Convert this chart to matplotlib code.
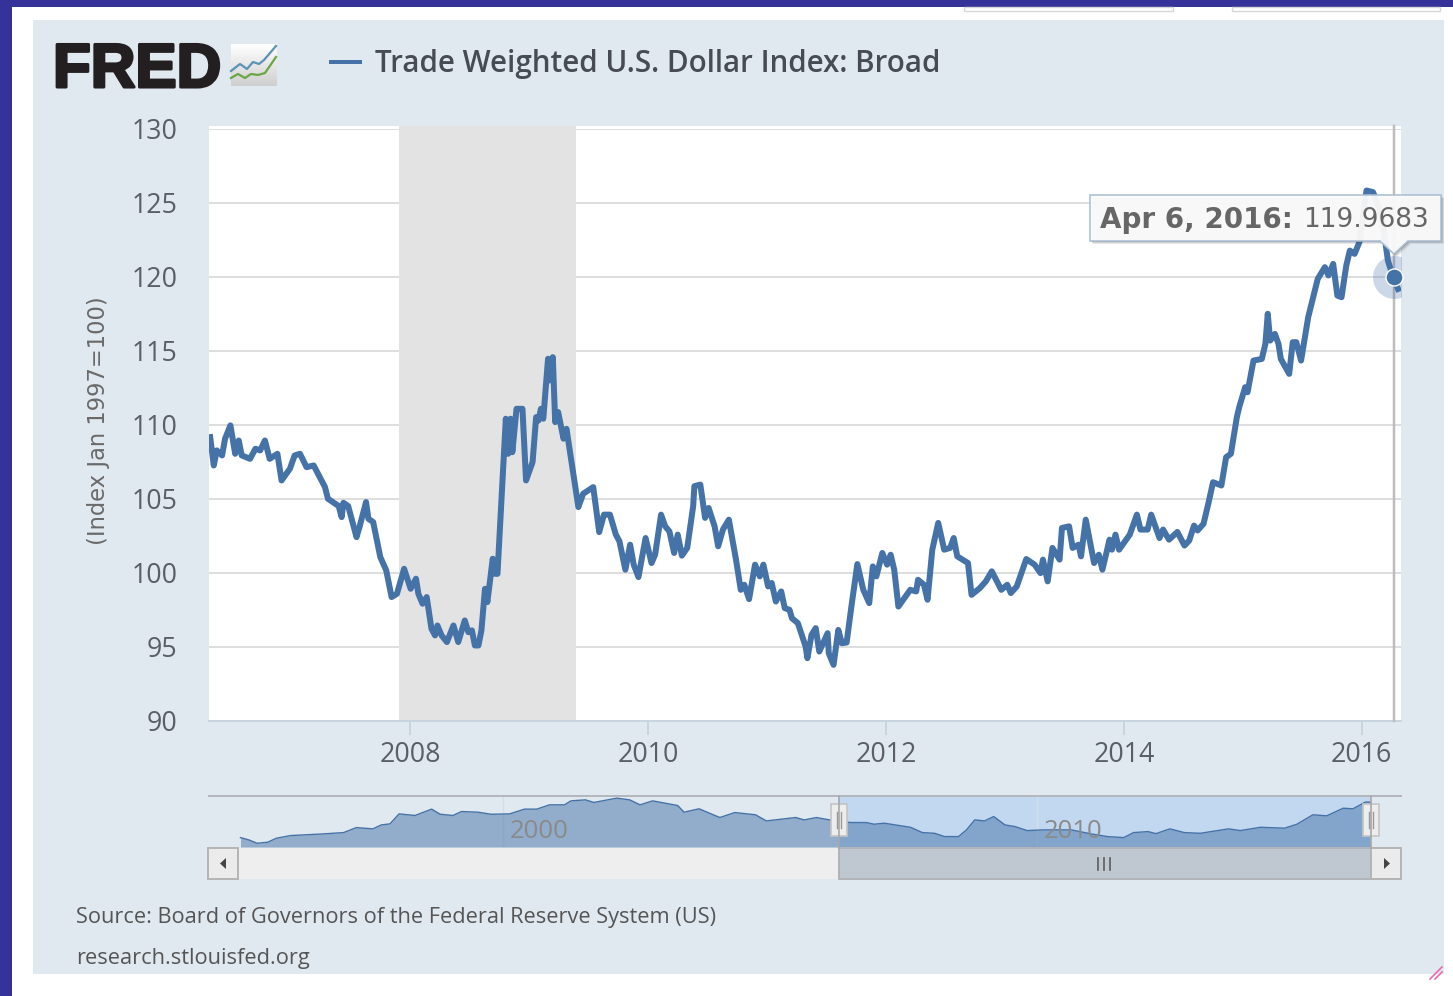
import matplotlib
matplotlib.use("Agg")
import matplotlib.pyplot as plt
from matplotlib.patches import Rectangle, Polygon
from matplotlib.colors import LinearSegmentedColormap
import matplotlib.patheffects as pe
import numpy as np

# ---------- data ----------
years = [2006.32,2006.35,2006.375,2006.42,2006.445,2006.49,2006.53,2006.56,2006.585,2006.655,2006.70,2006.74,2006.78,2006.82,2006.885,2006.92,2006.99,2007.03,2007.075,2007.13,2007.19,2007.285,2007.31,2007.40,2007.425,2007.44,2007.48,2007.55,2007.575,2007.63,2007.65,2007.69,2007.75,2007.80,2007.845,2007.89,2007.95,2008.005,2008.05,2008.07,2008.105,2008.14,2008.18,2008.21,2008.23,2008.265,2008.31,2008.365,2008.405,2008.46,2008.49,2008.52,2008.545,2008.575,2008.60,2008.63,2008.65,2008.695,2008.715,2008.735,2008.77,2008.805,2008.825,2008.845,2008.86,2008.895,2008.945,2008.975,2009.03,2009.06,2009.08,2009.10,2009.12,2009.16,2009.175,2009.20,2009.22,2009.245,2009.29,2009.315,2009.37,2009.415,2009.455,2009.54,2009.59,
2009.63,2009.68,2009.73,2009.76,2009.81,2009.85,2009.88,2009.92,2009.98,2010.03,2010.06,2010.11,2010.145,2010.18,2010.22,2010.25,2010.285,2010.33,2010.38,2010.39,2010.44,2010.48,2010.51,2010.56,2010.59,2010.63,2010.68,2010.74,2010.78,2010.81,2010.85,2010.90,2010.94,2010.97,2011.01,2011.04,2011.075,2011.12,2011.15,2011.19,2011.21,2011.26,2011.325,2011.34,2011.375,2011.41,2011.44,2011.51,2011.52,2011.56,2011.60,2011.63,2011.67,2011.71,2011.76,2011.81,2011.86,2011.89,2011.92,2011.97,2012.01,2012.04,2012.07,2012.105,2012.155,2012.205,2012.255,2012.27,2012.32,2012.35,2012.39,2012.44,2012.49,2012.54,2012.57,2012.60,2012.69,2012.72,2012.79,2012.84,2012.89,2012.97,2013.02,2013.05,2013.10,2013.18,2013.25,2013.30,2013.32,2013.36,2013.40,2013.46,2013.48,2013.54,2013.57,2013.62,2013.64,2013.68,2013.75,2013.79,2013.82,2013.88,2013.90,2013.93,2013.96,2014.05,2014.11,2014.14,2014.20,2014.23,2014.30,2014.33,2014.38,2014.45,
2014.51,2014.55,2014.59,2014.62,2014.67,2014.71,2014.75,2014.82,2014.86,2014.90,2014.95,2014.97,2015.02,2015.04,2015.09,2015.16,2015.19,2015.21,2015.23,2015.27,2015.30,2015.32,2015.39,2015.42,2015.45,2015.49,2015.55,2015.63,2015.69,2015.72,2015.76,2015.795,2015.83,2015.87,2015.90,2015.94,2015.98,2016.04,2016.095,2016.165,2016.22,2016.263,2016.305]
index_values = [109.15,107.23,108.25,107.91,109.04,109.94,108.02,108.92,107.91,107.68,108.36,108.25,108.92,107.68,108.02,106.22,107.01,107.91,108.02,107.12,107.23,105.77,104.98,104.49,103.74,104.71,104.49,102.39,103.07,104.76,103.63,103.41,101.04,100.14,98.34,98.56,100.25,98.90,99.58,98.56,97.89,98.34,96.2,95.75,96.42,95.75,95.3,96.42,95.3,96.76,95.97,96.09,95.07,95.07,96.09,98.9,98.0,100.93,99.91,99.91,105.09,110.39,108.02,110.39,108.13,111.06,111.06,106.22,107.46,110.5,110.27,111.06,110.39,114.44,112.98,114.55,110.16,110.84,109.04,109.71,106.78,104.42,105.32,105.77,102.73,
103.91,103.91,102.56,102.11,100.19,101.88,100.53,99.69,102.33,100.64,101.2,103.91,103.12,102.78,101.32,102.56,101.14,101.66,104.48,105.83,105.94,103.69,104.36,103.12,101.77,102.9,103.57,100.87,98.83,99.17,98.2,100.53,99.74,100.53,99.06,99.29,98.04,98.72,97.59,97.48,96.91,96.58,95.0,94.21,95.79,96.24,94.66,95.9,94.54,93.76,96.12,95.22,95.27,97.7,100.57,98.83,97.93,100.41,99.74,101.32,100.53,101.2,100.19,97.7,98.27,98.83,98.72,99.51,99.17,98.16,101.54,103.35,101.54,101.66,102.33,101.09,100.64,98.49,98.95,99.4,100.08,98.83,99.17,98.61,99.06,100.91,100.53,99.96,100.87,99.4,101.66,100.87,103.01,103.12,101.66,101.88,101.09,103.57,100.64,101.2,100.19,102.22,101.54,102.56,101.54,102.56,103.91,102.9,102.9,103.91,102.33,102.9,102.22,102.74,
101.82,102.16,103.17,102.84,103.29,104.64,106.1,105.88,107.79,108.02,110.49,111.17,112.52,112.18,114.32,114.43,115.45,117.48,115.67,116.12,115.45,114.43,113.42,115.56,115.56,114.32,117.25,119.84,120.63,120.07,120.85,118.71,118.6,120.74,121.75,121.53,122.32,125.81,125.7,124.23,121.08,119.97,119.16]

nav_years = [1995.08,1995.24,1995.39,1995.59,1995.75,1996.02,1996.615,1997.01,1997.25,1997.56,1997.72,1997.88,1998.05,1998.35,1998.66,1998.82,1999.06,1999.22,1999.53,1999.77,2000.12,2000.40,2000.63,2000.87,2001.15,2001.27,2001.54,2001.70,2002.13,2002.37,2002.565,2002.80,2003.27,2003.39,2003.67,2004.06,2004.34,2004.73,2004.93,2005.48,2005.64,2005.87,2006.15,
2006.50,2006.80,2006.95,2007.14,2007.63,2007.855,2008.08,2008.27,2008.53,2008.68,2008.835,2009.02,2009.19,2009.40,2009.59,2009.815,2010.12,2010.645,2011.02,2011.32,2011.625,2011.81,2012.08,2012.23,2012.49,2012.76,2013.06,2013.59,2013.81,2014.19,2014.64,2014.87,2015.17,2015.43,2015.735,2015.92,2016.15,2016.25]
nav_values = [94.3,92.2,89.3,90.2,93.7,96.1,97.5,98.7,103.1,102.0,105.5,106.4,115.2,113.8,119.4,114.9,113.8,117.3,116.7,114.9,115.2,119.4,119.4,123.2,123.2,126.7,127.6,125.3,129.1,127.6,123.2,126.7,122.6,116.7,119.7,112.0,116.4,114.4,109.0,112.0,109.9,112.0,109.6,
107.6,107.6,106.1,107.0,103.4,98.7,98.1,95.2,95.2,101.1,109.9,109.0,112.9,105.5,104.0,100.5,101.1,101.1,97.5,95.2,94.3,98.7,99.6,97.8,102.0,98.7,98.1,102.0,100.5,103.4,102.6,106.1,114.4,113.5,120.2,119.7,125.6,125.6]

recession = (2007.91, 2009.395)
y_ticks = [90, 95, 100, 105, 110, 115, 120, 125, 130]
x_ticks = [2008, 2010, 2012, 2014, 2016]
nav_labels = [2000, 2010]
hover = (2016.27, 119.9683)
series_name = "Trade Weighted U.S. Dollar Index: Broad"
y_title = "(Index Jan 1997=100)"
source = "Source: Board of Governors of the Federal Reserve System (US)"
site = "research.stlouisfed.org"

# ---------- figure ----------
W, H = 1453, 996
plt.rcParams['font.family'] = ['Open Sans', 'DejaVu Sans']
fig = plt.figure(figsize=(W/100, H/100), dpi=100, facecolor='white')

def px_axes(left, top, right, bottom, **kw):
    return fig.add_axes([left/W, 1-bottom/H, (right-left)/W, (bottom-top)/H], **kw)

PANEL = '#E0E8F0'; LINE = '#4572A7'; TXT = '#5A5F66'
lw2 = 72/100  # points per pixel

bg = px_axes(0, 0, W, H, zorder=0)
bg.set_xlim(0, W); bg.set_ylim(H, 0); bg.axis('off')
bg.add_patch(Rectangle((0, 0), 12, H, color='#35339A', lw=0))
bg.add_patch(Rectangle((0, 0), W, 7, color='#35339A', lw=0))
bg.add_patch(Rectangle((33, 20), 1411, 954, color=PANEL, lw=0))
bg.add_patch(Rectangle((209, 126), 1192, 4, fc='white', lw=0))
bg.add_patch(Rectangle((399, 126), 177, 4, fc='#E3E3E3', lw=0))
for a, b in [(964, 1173), (1232, 1440)]:
    bg.add_patch(Rectangle((a, 7), b-a, 4, fc='white', ec='#D8D8D8', lw=1))

# FRED logo
bg.text(53, 65, "FRED", family='Liberation Sans', weight='bold', fontsize=44.5, color='#231F20',
        va='center_baseline', ha='left', path_effects=[pe.withStroke(linewidth=2.2, foreground='#231F20')])
grad = LinearSegmentedColormap.from_list('g', ['#FFFFFF', '#CFCFCF'])
bg.imshow(np.linspace(0, 1, 40).reshape(-1, 1) * np.ones((40, 40)), cmap=grad, extent=(231, 277, 86, 44), aspect='auto', zorder=1)
bg.set_xlim(0, W); bg.set_ylim(H, 0)
bg.plot([231, 240, 247, 253, 259, 264, 276], [71, 64, 69, 62, 64, 60, 46], color='#5B93B5', lw=1.6, zorder=2)
bg.plot([231, 238, 245, 251, 258, 265, 276], [78, 74, 78, 74, 75, 73, 57], color='#6BA644', lw=1.6, zorder=2)

# legend
bg.plot([329, 362], [62, 62], color=LINE, lw=4*lw2, solid_capstyle='butt')
bg.text(375, 64, series_name, fontsize=21.3, weight='semibold', color='#474C52', va='center', ha='left')

# side and foot texts
bg.text(98, 421, y_title, rotation=90, fontsize=16.3, family='DejaVu Sans', color='#6A6A6A', va='center', ha='center')
bg.text(76, 917, source, fontsize=15.7, color='#555555', va='center', ha='left')
bg.text(76, 958, site, fontsize=15.7, color='#555555', va='center', ha='left')
bg.plot([1430, 1442], [979, 967], color='#E86AB0', lw=1.2)
bg.plot([1435, 1442], [979, 972], color='#E86AB0', lw=1.2)

# ---------- main plot ----------
ax = px_axes(209, 128.5, 1401, 720.5, zorder=1)
ax.set_xlim(2006.31, 2016.33); ax.set_ylim(90, 130)
ax.set_facecolor('white')
ax.axvspan(*recession, color='#E3E3E3', lw=0, zorder=1)
ax.set_yticks(y_ticks); ax.set_xticks(x_ticks)
ax.set_xticklabels([str(t) for t in x_ticks])
ax.grid(axis='y', color='#DEDEDE', lw=2*lw2, zorder=2)
ax.set_axisbelow(True)
for s in ('top', 'left', 'right'):
    ax.spines[s].set_visible(False)
ax.spines['bottom'].set_color('#C8D4E0'); ax.spines['bottom'].set_linewidth(2*lw2)
ax.tick_params(axis='y', length=0, labelsize=19.3, labelcolor=TXT, pad=22.5)
ax.tick_params(axis='x', length=10, width=1.4, color='#C8D4E0', labelsize=19.3, labelcolor=TXT, pad=5)
ax.axvline(hover[0], ymax=1.005, color='#BDBDBD', lw=2.5*lw2, zorder=3, clip_on=False)
ax.plot(years, index_values, color=LINE, lw=6*lw2, solid_joinstyle='round', zorder=4)
ax.plot(*hover, 'o', ms=43*lw2, mfc=LINE, mec='none', alpha=0.27, zorder=5)
ax.plot(*hover, 'o', ms=17*lw2, mfc=LINE, mec='white', mew=1, zorder=6, clip_on=False)

# ---------- navigator ----------
nav = px_axes(209, 796, 1401, 847, zorder=1)
nav.set_xlim(1994.49, 2016.82); nav.set_ylim(86, 131)
nav.set_facecolor('none')
nav.axvspan(2006.28, 2016.25, color='#C2D8F0', lw=0, zorder=1)
for y in nav_labels:
    nav.axvline(y, color='#D4DEE8', lw=1, zorder=1.5)
nav.fill_between(nav_years, 86, nav_values, color=LINE, alpha=0.5, lw=0, zorder=2)
nav.plot(nav_years, nav_values, color=LINE, lw=1.4*lw2, zorder=3)
nav.set_xticks([]); nav.set_yticks([])
for s in ('left', 'right', 'bottom'):
    nav.spines[s].set_visible(False)
nav.spines['top'].set_color('#B4B8BE'); nav.spines['top'].set_linewidth(2*lw2)
for y in nav_labels:
    nav.text(y + 0.13, 99.5, str(y), fontsize=18.5, color='#8A8A8A', ha='left', va='center', zorder=4)

# ---------- overlay: scrollbar, handles, tooltip ----------
ov = px_axes(0, 0, W, H, zorder=3)
ov.set_xlim(0, W); ov.set_ylim(H, 0); ov.axis('off'); ov.patch.set_alpha(0)
ov.add_patch(Rectangle((238, 848), 601, 31, fc='#EEEEEE', lw=0))
ov.add_patch(Rectangle((839, 848), 532, 31, fc='#BFC8D1', ec='#B0B4B8', lw=1.4))
for x0 in (208, 1371):
    ov.add_patch(Rectangle((x0, 848), 30, 31, fc='#EBEBEB', ec='#B4B4B4', lw=1.4))
ov.add_patch(Polygon([[226, 858], [226, 869], [220, 863.5]], fc='#444444', lw=0))
ov.add_patch(Polygon([[1384, 858], [1384, 869], [1390, 863.5]], fc='#444444', lw=0))
for x0 in (1098, 1104, 1110):
    ov.plot([x0, x0], [858, 870], color='#666666', lw=1.3)
for x0 in (839, 1371):
    ov.plot([x0, x0], [796, 848], color='#A8A8A8', lw=1.2)
    ov.add_patch(Rectangle((x0-8, 804), 16, 32, fc='#EDEDED', ec='#C4C4C4', lw=1.2))
    for d in (-2, 2):
        ov.plot([x0+d, x0+d], [812, 828], color='#999999', lw=1)

# tooltip shadow, box and pointer
outline = [[1090, 195], [1441, 195], [1441, 241], [1408, 241], [1394, 254], [1380, 241], [1090, 241]]
for off, a in [(3, .10), (2, .15), (1, .25)]:
    ov.add_patch(Polygon([[x+off, y+off] for x, y in outline], fc='#333333', alpha=a, lw=0))
ov.add_patch(Polygon(outline, fc='white', ec='#A9BDD3', lw=1.2, alpha=0.93))
ov.text(1100, 220, "Apr 6, 2016:", family='DejaVu Sans', fontsize=20, weight='bold', color='#666666', va='center', ha='left')
ov.text(1303, 220, "119.9683", family='DejaVu Sans', fontsize=19, color='#666666', va='center', ha='left')

fig.savefig('out.png', dpi=100, facecolor='white')
